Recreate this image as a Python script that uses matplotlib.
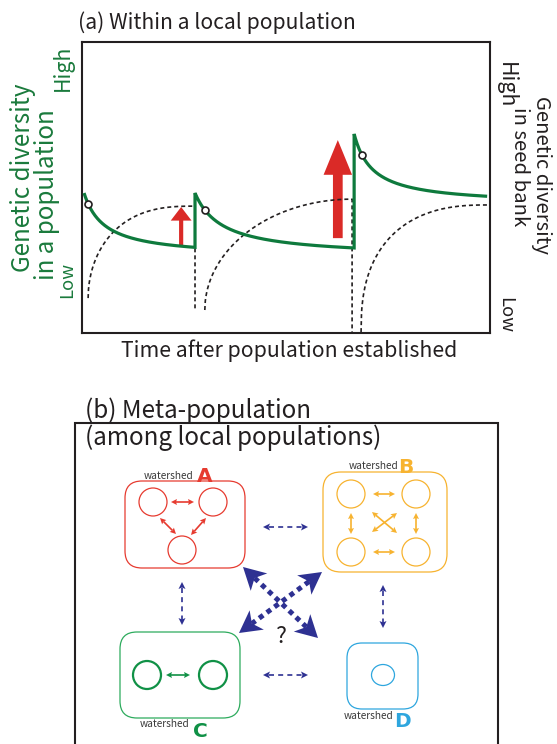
import numpy as np
import matplotlib
matplotlib.use('Agg')
import matplotlib.pyplot as plt
from matplotlib.patches import FancyArrowPatch, FancyBboxPatch, Circle, Ellipse, Polygon

# ---------------- data: panel (a) ----------------
# genetic diversity in the standing population (three establishment events)
pop_start_t = [0.5, 27.7, 66.7]
pop_end_t = [27.7, 66.7, 99.3]
pop_peak = [48.1, 48.1, 68.4]
pop_floor = [26.0, 26.0, 44.0]
pop_rate = [0.20, 0.15, 0.22]
marker_t = [1.5, 30.1, 68.6]

# genetic diversity in the seed bank
bank_start_t = [1.5, 30.1, 68.4]
bank_end_t = [27.7, 66.2, 99.3]
bank_low = [12.0, 7.9, 0.3]
bank_high = [43.6, 46.0, 44.0]
bank_shape_a = [2.7, 2.0, 2.5]
bank_shape_b = [0.5, 0.5, 0.4]

# input from the seed bank (red arrows)
input_t = [24.3, 62.7]
input_from = [30.2, 32.6]
input_to = [43.3, 66.3]

# ---------------- texts ----------------
title_a = "(a) Within a local population"
xlabel_a = "Time after population established"
ylabel_left = ["Genetic diversity", "in a population"]
ylabel_right = ["Genetic diversity", "in seed bank"]
level_labels = ["High", "Low"]
title_b = ["(b) Meta-population", "(among local populations)"]
watersheds = ["A", "B", "C", "D"]

# ---------------- style ----------------
W, H, DPI = 557, 744, 100
FONT = ['Noto Sans CJK JP', 'DejaVu Sans']
BOLD = ['DejaVu Sans']
INK = '#231f20'
GREEN_LINE = '#0e7a3d'
GREEN_TEXT = '#1a7a3c'
RED = '#da2a27'
NAVY = '#2e3192'
COL = {'A': '#e63b30', 'B': '#f7b330', 'C': '#2dab5d', 'D': '#2ea6de'}
C_DARK = '#109146'
GRAY = '#3a3a3a'

fig = plt.figure(figsize=(W / DPI, H / DPI), dpi=DPI)
fig.patch.set_facecolor('white')
R = fig.canvas.get_renderer()


def size_for(s, target_px, family=FONT, weight='normal'):
    t = fig.text(0, 0, s, fontsize=20, family=family, weight=weight)
    w = t.get_window_extent(renderer=R).width
    t.remove()
    return 20 * target_px / w


# ---------------- panel (a) ----------------
ax = fig.add_axes([82 / W, 1 - 333 / H, 408 / W, 291 / H])
ax.set_xlim(0, 100)
ax.set_ylim(0, 100)
ax.set_xticks([])
ax.set_yticks([])
for sp in ax.spines.values():
    sp.set_linewidth(1.5)
    sp.set_color(INK)

ts, vs = [], []
for s, e, p, f, k in zip(pop_start_t, pop_end_t, pop_peak, pop_floor, pop_rate):
    t = np.linspace(s, e, 300)
    ts.append(t)
    vs.append(f + (p - f) / (1 + k * (t - s)))
ax.plot(np.concatenate(ts), np.concatenate(vs), color=GREEN_LINE, lw=2.3,
        solid_joinstyle='miter', solid_capstyle='butt', zorder=4)

mt = np.array(marker_t)
mv = [f + (p - f) / (1 + k * (m - s)) for m, s, p, f, k in
      zip(marker_t, pop_start_t, pop_peak, pop_floor, pop_rate)]
ax.plot(mt, mv, 'o', ms=5, mfc='white', mec=INK, mew=1.2, zorder=6)

for i in range(3):
    s = np.linspace(0, 1, 300)
    t = bank_start_t[i] + s * (bank_end_t[i] - bank_start_t[i])
    f = (1 - (1 - s) ** bank_shape_a[i]) ** bank_shape_b[i]
    v = bank_low[i] + (bank_high[i] - bank_low[i]) * f
    if i < 2:
        t = np.append(t, bank_end_t[i])
        v = np.append(v, bank_low[i + 1])
    ax.plot(t, v, color=INK, lw=1.2, linestyle=(0, (2.4, 1.8)), zorder=3)

arrow_styles = ['simple,head_length=9.8,head_width=15,tail_width=3.0',
                'simple,head_length=25,head_width=20.5,tail_width=7.0']
for t, a, b, st in zip(input_t, input_from, input_to, arrow_styles):
    ax.add_patch(FancyArrowPatch((t, a), (t, b), arrowstyle=st, mutation_scale=1,
                                 color=RED, lw=0, shrinkA=0, shrinkB=0, zorder=2))

# ---------------- canvas in pixel coordinates ----------------
cv = fig.add_axes([0, 0, 1, 1])
cv.set_xlim(0, W)
cv.set_ylim(H, 0)
cv.axis('off')

fs_title = size_for(title_a, 277)
cv.text(78, 29, title_a, fontsize=fs_title, family=FONT, color=INK, ha='left', va='baseline')
fs_x = size_for(xlabel_a, 335)
cv.text(289.5, 357, xlabel_a, fontsize=fs_x, family=FONT, color=INK, ha='center', va='baseline')


def vtext(x, y, s, fs, color, rot, ha='left'):
    cv.text(x, y, s, fontsize=fs, family=FONT, color=color, rotation=rot,
            rotation_mode='anchor', ha=ha, va='baseline')


# left axis labels (read bottom to top, baseline on the right)
fs_l = size_for(ylabel_left[0], 189)
vtext(30.5, 272, ylabel_left[0], fs_l, GREEN_TEXT, 90)
vtext(54, 195, ylabel_left[1], fs_l, GREEN_TEXT, 90, ha='center')
vtext(69, 91, level_labels[0], size_for(level_labels[0], 46), GREEN_TEXT, 90)
vtext(72, 298, level_labels[1], size_for(level_labels[1], 36), GREEN_TEXT, 90)

# right axis labels (read top to bottom, baseline on the left)
fs_r = size_for(ylabel_right[0], 158)
vtext(536, 96, ylabel_right[0], fs_r, INK, -90)
vtext(514, 166.5, ylabel_right[1], fs_r, INK, -90, ha='center')
vtext(500, 62, level_labels[0], size_for(level_labels[0], 46), INK, -90)
vtext(500, 297, level_labels[1], size_for(level_labels[1], 36), INK, -90)

# ---------------- panel (b) ----------------
cv.plot([75, 75, 498, 498], [H, 423, 423, H], color=INK, lw=1.5,
        solid_joinstyle='miter', zorder=1)
fs_b = size_for(title_b[1], 297)
cv.text(85, 418, title_b[0], fontsize=fs_b, family=FONT, color=INK, ha='left', va='baseline', zorder=2)
cv.text(85, 445, title_b[1], fontsize=fs_b, family=FONT, color=INK, ha='left', va='baseline', zorder=2)


def rbox(x0, x1, y0, y1, color, r=17, lw=0.9):
    cv.add_patch(FancyBboxPatch((x0, y0), x1 - x0, y1 - y0,
                                boxstyle=f'round,pad=0,rounding_size={r}',
                                fill=False, ec=color, lw=lw))


def head(tip, u, L, wd, notch, color):
    tip = np.asarray(tip, float)
    n = np.array([-u[1], u[0]])
    base = tip - L * u
    pts = [tip, base + wd / 2 * n, tip - (L - notch) * u, base - wd / 2 * n]
    cv.add_patch(Polygon(pts, closed=True, fc=color, ec='none', zorder=5))


def darrow(p0, p1, color, lw, L, wd, notch=0.0, ls='-'):
    p0 = np.asarray(p0, float)
    p1 = np.asarray(p1, float)
    u = (p1 - p0) / np.hypot(*(p1 - p0))
    a = p0 + (L - notch) * u
    b = p1 - (L - notch) * u
    cv.plot([a[0], b[0]], [a[1], b[1]], color=color, lw=lw, linestyle=ls,
            solid_capstyle='butt', dash_capstyle='butt', zorder=4)
    head(p1, u, L, wd, notch, color)
    head(p0, -u, L, wd, notch, color)


# watershed boxes
rbox(125, 245, 481, 568, COL['A'])
rbox(323, 447, 472, 572, COL['B'], r=18)
rbox(120, 240, 632, 718, COL['C'])
rbox(347, 418, 643, 709, COL['D'], r=15)

# local populations
for c in [(153, 502), (213, 502), (182, 550)]:
    cv.add_patch(Circle(c, 14, fill=False, ec=COL['A'], lw=0.9))
for c in [(351, 494), (416, 494), (351, 552), (416, 552)]:
    cv.add_patch(Circle(c, 14, fill=False, ec=COL['B'], lw=0.9))
for c in [(147, 675), (213, 675)]:
    cv.add_patch(Circle(c, 14, fill=False, ec=C_DARK, lw=1.6))
cv.add_patch(Ellipse((383, 675), 23, 21, fill=False, ec=COL['D'], lw=0.9))

# gene flow within watersheds
small = dict(lw=1.2, L=6, wd=6, notch=1)
darrow((171, 502), (194, 502), COL['A'], **small)
darrow((160, 518), (176, 534), COL['A'], **small)
darrow((206, 518), (191, 535), COL['A'], **small)
darrow((373, 494), (395, 494), COL['B'], **small)
darrow((373, 552), (395, 552), COL['B'], **small)
darrow((351, 513), (351, 534), COL['B'], **small)
darrow((416, 513), (416, 534), COL['B'], **small)
darrow((372, 512), (397, 533), COL['B'], **small)
darrow((397, 513), (372, 532), COL['B'], **small)
darrow((166, 675), (190, 675), C_DARK, **small)

# gene flow among watersheds
thin = dict(lw=1.2, L=7, wd=7, notch=1.5, ls=(0, (3, 2.5)))
darrow((263, 527), (308, 527), NAVY, **thin)
darrow((263, 675), (308, 675), NAVY, **thin)
darrow((182, 582), (182, 625), NAVY, **thin)
darrow((383, 585), (383, 628), NAVY, **thin)
big = dict(lw=3.6, L=22, wd=24, notch=6, ls=(0, (1, 0.9)))
darrow((243, 567), (318, 638), NAVY, **big)
darrow((322, 572), (239, 633), NAVY, **big)
cv.text(281, 643, "?", fontsize=size_for("?", 11), family=FONT, color=INK, ha='center', va='baseline')

# watershed labels
fs_ws = size_for("watershed", 50)
ws_pos = {'A': (193, 479, 197, 482), 'B': (398, 469, 398, 473),
          'C': (189, 727, 193, 737), 'D': (393, 719, 394, 727)}
for k in watersheds:
    xr, yb, xl, ylb = ws_pos[k]
    cv.text(xr, yb, "watershed", fontsize=fs_ws, family=FONT, color=GRAY, ha='right', va='baseline')
    cv.text(xl, ylb, k, fontsize=14.5, family=BOLD, weight='bold',
            color=COL[k] if k != 'C' else C_DARK, ha='left', va='baseline')

fig.savefig('out.png', dpi=DPI, facecolor='white')
